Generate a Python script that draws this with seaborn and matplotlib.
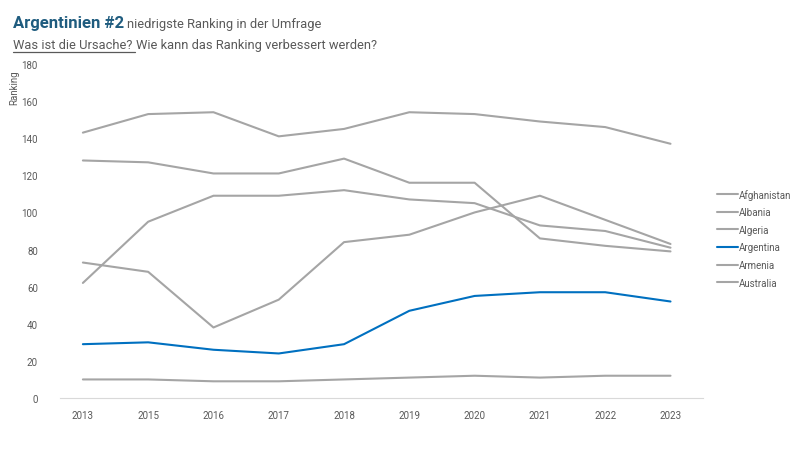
import pandas as pd
import seaborn as sns
import matplotlib.pyplot as plt
from matplotlib.lines import Line2D

years = ["2013", "2015", "2016", "2017", "2018", "2019", "2020", "2021", "2022", "2023"]
afghanistan = [143, 153, 154, 141, 145, 154, 153, 149, 146, 137]
albania = [128, 127, 121, 121, 129, 116, 116, 86, 82, 79]
algeria = [62, 95, 109, 109, 112, 107, 105, 93, 90, 81]
argentina = [29, 30, 26, 24, 29, 47, 55, 57, 57, 52]
armenia = [73, 68, 38, 53, 84, 88, 100, 109, 96, 83]
australia = [10, 10, 9, 9, 10, 11, 12, 11, 12, 12]

countries = ["Afghanistan", "Albania", "Algeria", "Argentina", "Armenia", "Australia"]
series = [afghanistan, albania, algeria, argentina, armenia, australia]

rows = []
for name, vals in zip(countries, series):
    for y, v in zip(years, vals):
        rows.append({"Year": y, "Country": name, "Ranking": v})
df = pd.DataFrame(rows)

gray = "#A5A5A5"
blue = "#0070C0"
palette = {c: (blue if c == "Argentina" else gray) for c in countries}

sns.set_theme(style="white")
plt.rcParams['font.family'] = ['Liberation Sans Narrow', 'Roboto', 'DejaVu Sans']

fig = plt.figure(figsize=(7.93, 4.56), dpi=100)
ax = fig.add_axes([0.0757, 0.125, 0.811, 0.7325])

sns.lineplot(data=df, x="Year", y="Ranking", hue="Country", palette=palette,
             linewidth=1.5, legend=False, ax=ax, sort=False)

ax.set_ylim(0, 180)
ax.set_yticks(range(0, 181, 20))
ax.set_xlim(-0.35, 9.5)
for s in ["top", "right", "left"]:
    ax.spines[s].set_visible(False)
ax.spines["bottom"].set_color("#D9D9D9")
ax.spines["bottom"].set_linewidth(0.8)
ax.tick_params(axis="both", length=0, labelsize=7, colors="#595959")
ax.tick_params(axis="y", pad=16)
ax.tick_params(axis="x", pad=9)
ax.set_xlabel("")
ax.set_ylabel("")
fig.text(0.018, 0.845, "Ranking", rotation=90, fontsize=7, color="#595959",
         ha="center", va="top")

handles = [Line2D([0], [0], color=palette[c], lw=1.5) for c in countries]
leg = fig.legend(handles, countries, loc="upper left", bbox_to_anchor=(0.893, 0.603),
                 frameon=False, fontsize=7, handlelength=2.2, handletextpad=0.05,
                 labelspacing=0.78, labelcolor="#595959")

# title
t1 = fig.text(0.0164, 0.938, "Argentinien #2", fontsize=12, fontweight="bold",
              color="#1F5C7F", family=["Roboto", "DejaVu Sans"], va="baseline")
fig.canvas.draw()
r = fig.canvas.get_renderer()
bb = t1.get_window_extent(r).transformed(fig.transFigure.inverted())
fig.text(bb.x1 + 0.004, 0.938, "niedrigste Ranking in der Umfrage", fontsize=9.3,
         color="#595959", family=["Roboto", "DejaVu Sans"], va="baseline")

t3 = fig.text(0.0164, 0.893, "Was ist die Ursache?", fontsize=9.3,
              color="#595959", family=["Roboto", "DejaVu Sans"], va="baseline")
fig.canvas.draw()
bb3 = t3.get_window_extent(r).transformed(fig.transFigure.inverted())
fig.text(bb3.x1 + 0.004, 0.893, "Wie kann das Ranking verbessert werden?", fontsize=9.3,
         color="#595959", family=["Roboto", "DejaVu Sans"], va="baseline")
fig.add_artist(Line2D([bb3.x0, bb3.x1 + 0.003], [0.884, 0.884], color="#595959",
                      lw=0.9, transform=fig.transFigure))

fig.savefig("out.png", dpi=100)
